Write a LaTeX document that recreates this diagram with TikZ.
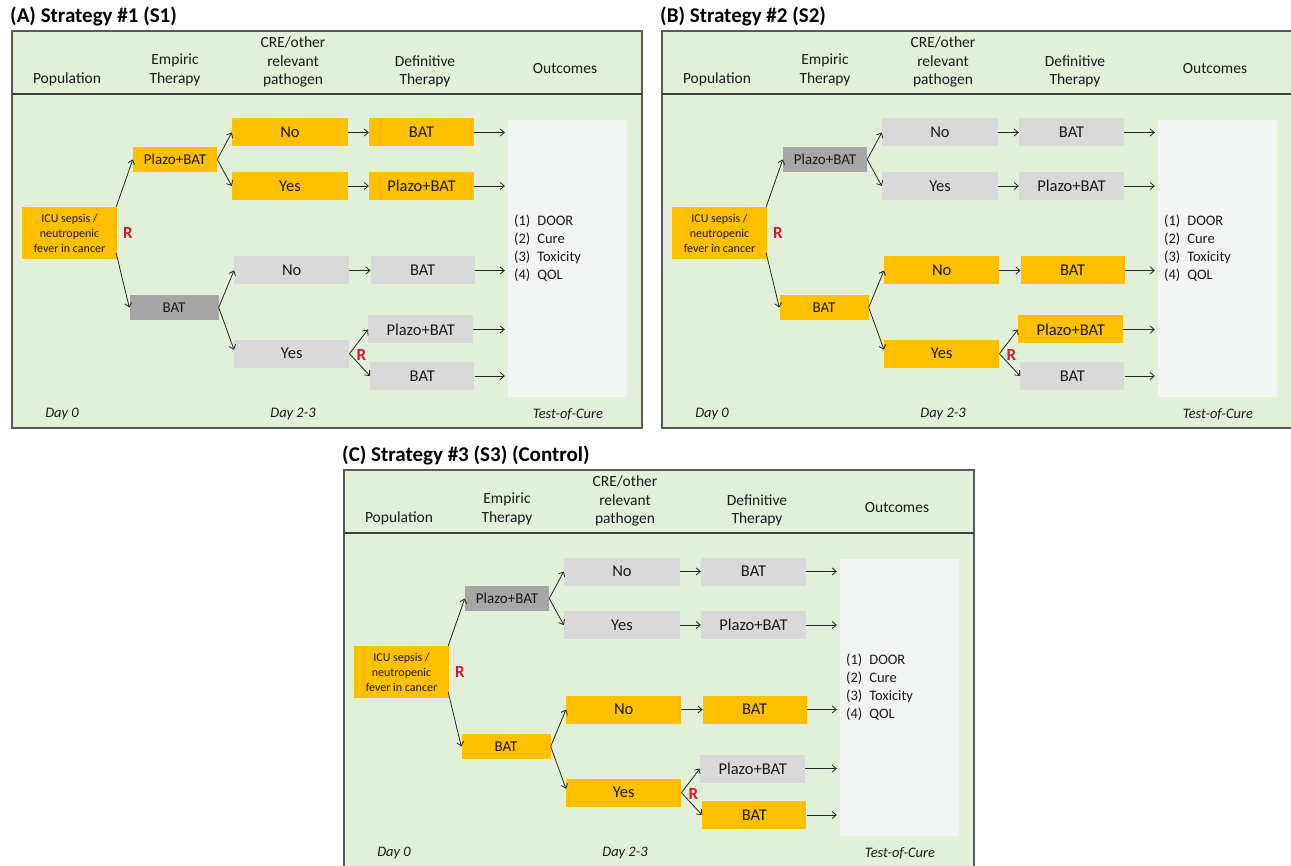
\documentclass[tikz,border=0pt]{standalone}
\usepackage{fontspec}
\setmainfont{Carlito}
\usetikzlibrary{arrows.meta}
\definecolor{panelgreen}{HTML}{E2EFD9}
\definecolor{gold}{HTML}{FFC000}
\definecolor{lgray}{HTML}{D9D9D9}
\definecolor{dgray}{HTML}{A6A6A6}
\definecolor{outgray}{HTML}{F2F3F3}
\definecolor{rred}{HTML}{C81E28}
\definecolor{framegray}{HTML}{595959}
\definecolor{txt}{HTML}{1A1A1A}
\tikzset{
  box/.style={rectangle, inner sep=0pt, text=txt, font=\fontsize{16.5}{19}\selectfont},
  empbox/.style={box, font=\fontsize{15}{18}\selectfont},
  icubox/.style={box, align=center, font=\fontsize{12}{15}\selectfont},
  hdr/.style={align=center, text=txt, inner sep=0pt, font=\fontsize{15.5}{18.5}\selectfont},
  daylbl/.style={text=txt, inner sep=0pt, font=\fontsize{14.5}{17}\selectfont\itshape},
  rlbl/.style={text=rred, inner sep=0pt, font=\fontsize{17}{20}\selectfont\bfseries},
  ttl/.style={anchor=west, inner sep=0pt, text=black, font=\fontsize{21}{24}\selectfont\bfseries},
  arr/.style={-{Straight Barb[length=4pt,width=7pt]}, line width=0.8pt, draw=black!85},
  panelframe/.style={fill=panelgreen, draw=framegray, line width=1.3pt},
  hdrline/.style={draw=black!75, line width=1.8pt},
}
% #1 prefix, #2 title, #3 empiric Plazo, #4 top branch, #5 empiric BAT,
% #6 bottom No + BAT, #7 bottom Yes, #8 randomised Plazo+BAT, #9 randomised BAT
\newcommand{\drawpanel}[9]{%
  \node[ttl] (#1title) at (10,16) {#2};
  \draw[panelframe] (12,31) rectangle (642,428);
  \draw[hdrline] (12,94) -- (642,94);
  \node[hdr] (#1hpop) at (67,79) {Population};
  \node[hdr] (#1hemp) at (175,70) {Empiric\\Therapy};
  \node[hdr] (#1hcre) at (293,62) {CRE/other\\relevant\\pathogen};
  \node[hdr] (#1hdef) at (425,71.5) {Definitive\\Therapy};
  \node[hdr] (#1hout) at (565,69) {Outcomes};
  \node[icubox, fill=gold, minimum width=95pt, minimum height=52pt] (#1icu) at (69.5,233) {ICU sepsis /\\neutropenic\\fever in cancer};
  \node[rlbl] (#1ra) at (128,233) {R};
  \node[empbox, fill=#3, minimum width=84pt, minimum height=25pt] (#1ea) at (175,159.5) {Plazo+BAT};
  \node[empbox, fill=#5, minimum width=89pt, minimum height=25pt] (#1eb) at (174,307.5) {BAT};
  \node[box, fill=#4, minimum width=116pt, minimum height=28pt] (#1noa) at (290,132.5) {No};
  \node[box, fill=#4, minimum width=116pt, minimum height=28pt] (#1yesa) at (290,186) {Yes};
  \node[box, fill=#6, minimum width=115pt, minimum height=28pt] (#1nob) at (291.7,270.5) {No};
  \node[box, fill=#7, minimum width=115pt, minimum height=28pt] (#1yesb) at (291.7,353.7) {Yes};
  \node[box, fill=#4, minimum width=105pt, minimum height=28pt] (#1da) at (421.5,132.5) {BAT};
  \node[box, fill=#4, minimum width=105pt, minimum height=28pt] (#1db) at (421.5,186) {Plazo+BAT};
  \node[box, fill=#6, minimum width=104pt, minimum height=28pt] (#1dc) at (422.7,270.5) {BAT};
  \node[box, fill=#8, minimum width=105pt, minimum height=28pt] (#1dd) at (420.7,329.5) {Plazo+BAT};
  \node[box, fill=#9, minimum width=104pt, minimum height=28pt] (#1de) at (422.3,376) {BAT};
  \node[rlbl] (#1rb) at (361.5,355) {R};
  \node[fill=outgray, inner sep=0pt, minimum width=119pt, minimum height=277pt] (#1out) at (567.5,258.5) {};
  \node[anchor=west, inner sep=0pt, text=txt, font=\fontsize{14.5}{18}\selectfont] (#1list) at (514,249)
    {\begin{tabular}{@{}l@{\hspace{7pt}}l@{}}(1)&DOOR\\(2)&Cure\\(3)&Toxicity\\(4)&QOL\end{tabular}};
  \node[daylbl] (#1day0) at (62,414) {Day 0};
  \node[daylbl] (#1day23) at (293,414) {Day 2-3};
  \node[daylbl] (#1toc) at (568,414) {Test-of-Cure};
  \draw[arr] ([xshift=-1pt]#1icu.north east) -- (#1ea.west);
  \draw[arr] ([xshift=-1pt,yshift=6pt]#1icu.south east) -- (#1eb.west);
  \draw[arr] (#1ea.east) -- (#1noa.west);
  \draw[arr] (#1ea.east) -- (#1yesa.west);
  \draw[arr] (#1eb.east) -- (#1nob.west);
  \draw[arr] (#1eb.east) -- ([yshift=4pt]#1yesb.west);
  \draw[arr] (#1noa) -- (#1da);
  \draw[arr] (#1yesa) -- (#1db);
  \draw[arr] (#1nob) -- (#1dc);
  \draw[arr] (#1yesb.east) -- (#1dd.west);
  \draw[arr] (#1yesb.east) -- (#1de.west);
  \foreach \dn in {da,db,dc,dd,de}{
    \draw[arr, shorten >=3pt] (#1\dn.east) -- (#1\dn.east -| #1out.west);
  }
}
\begin{document}
\begin{tikzpicture}[x=1pt,y=-1pt]
  \useasboundingbox (0,0) rectangle (1291,866);
  \clip (0,0) rectangle (1291,866);
  \fill[white] (0,0) rectangle (1291,866);
  \begin{scope}
    \drawpanel{A}{(A) Strategy \#1 (S1)}{gold}{gold}{dgray}{lgray}{lgray}{lgray}{lgray}
  \end{scope}
  \begin{scope}[shift={(650,0)}]
    \drawpanel{B}{(B) Strategy \#2 (S2)}{dgray}{lgray}{gold}{gold}{gold}{gold}{lgray}
  \end{scope}
  \begin{scope}[shift={(332,439)}]
    \drawpanel{C}{(C) Strategy \#3 (S3) (Control)}{dgray}{lgray}{gold}{gold}{gold}{lgray}{gold}
  \end{scope}
\end{tikzpicture}
\end{document}
